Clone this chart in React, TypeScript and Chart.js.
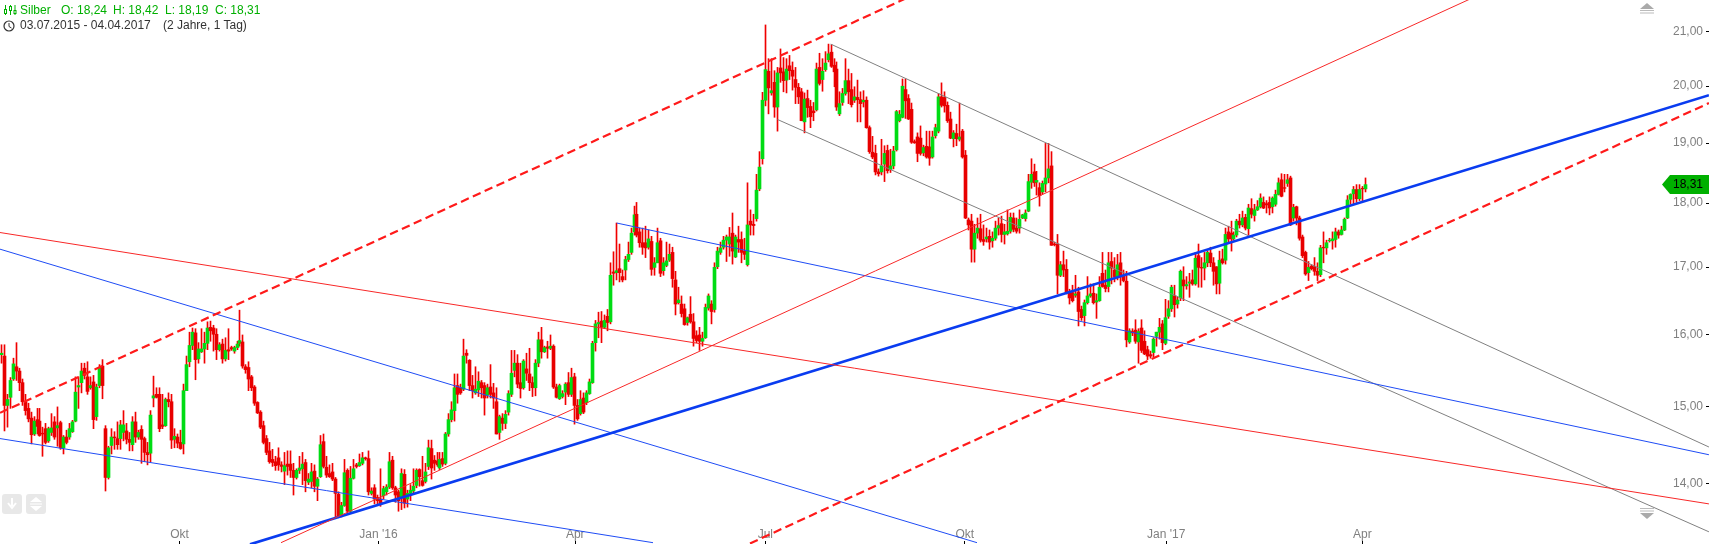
import React, { useEffect, useRef } from "react";
import { Chart, registerables } from "chart.js";

Chart.register(...registerables);

// Daily candles of silver as [open, high, low, close].
const q3_2015 = [
[15.72,15.86,15.60,15.74],[15.70,15.86,14.68,15.02],[15.02,15.17,14.73,15.10],[15.13,15.40,14.98,15.36],[15.38,15.67,15.36,15.59],[15.55,15.89,15.36,15.49],[15.49,15.53,15.22,15.33],[15.33,15.38,15.02,15.07],[15.07,15.17,14.89,14.95],[14.98,15.05,14.80,14.84],
[14.85,14.93,14.51,14.63],[14.64,14.87,14.62,14.81],[14.83,14.98,14.64,14.74],[14.81,14.98,14.61,14.62],[14.65,14.73,14.35,14.64],[14.71,14.78,14.51,14.53],[14.55,14.73,14.53,14.71],[14.66,14.91,14.62,14.72],[14.80,14.87,14.57,14.60],[14.72,15.00,14.48,14.75],
[14.79,14.81,14.44,14.46],[14.46,14.62,14.38,14.60],[14.60,14.69,14.51,14.53],[14.60,14.78,14.57,14.71],[14.67,14.82,14.66,14.80],[14.81,15.41,14.80,15.20],[15.27,15.41,14.98,15.29],[15.33,15.60,15.19,15.49],[15.53,15.60,15.38,15.43],[15.41,15.62,15.17,15.21],
[15.26,15.41,15.24,15.29],[15.34,15.43,14.71,14.83],[14.87,15.31,14.82,15.27],[15.29,15.58,15.26,15.54],[15.56,15.65,15.11,15.29],[14.71,14.75,13.91,14.08],[14.08,14.48,14.06,14.46],[14.49,14.71,14.38,14.60],[14.60,14.67,14.44,14.59],[14.58,14.80,14.44,14.50],
[14.58,14.82,14.44,14.76],[14.66,14.95,14.55,14.76],[14.68,14.78,14.51,14.57],[14.57,14.66,14.42,14.53],[14.50,14.87,14.42,14.80],[14.80,14.93,14.53,14.60],[14.60,14.69,14.57,14.66],[14.70,14.75,14.26,14.57],[14.58,14.60,14.28,14.40],[14.40,14.53,14.24,14.37],
[14.39,14.95,14.28,14.89],[15.12,15.42,15.00,15.15],[15.17,15.26,15.12,15.13],[15.17,15.26,14.67,14.71],[14.76,15.17,14.71,14.74],[14.75,15.12,14.74,15.10],[15.10,15.19,15.00,15.07],[15.07,15.17,14.45,14.56],[14.57,14.71,14.46,14.61],[14.60,14.64,14.46,14.52],
];
const q4_2015 = [
[14.53,14.69,14.44,14.45],[14.51,15.31,14.38,15.22],[15.22,15.70,15.22,15.58],[15.62,16.04,15.55,15.85],[15.85,16.10,15.79,16.04],[16.03,16.09,15.37,15.65],[15.66,15.89,15.60,15.80],[15.76,16.09,15.75,15.80],[15.80,16.04,15.60,15.88],[15.88,16.19,15.79,16.10],
[16.11,16.20,15.91,16.06],[16.10,16.14,15.77,16.01],[16.01,16.09,15.65,15.79],[15.79,15.89,15.77,15.86],[15.87,15.94,15.60,15.66],[15.66,15.96,15.63,15.78],[15.79,16.09,15.65,15.77],[15.82,15.84,15.78,15.80],[15.77,15.84,15.74,15.82],[15.82,15.91,15.79,15.87],
[15.88,16.36,15.84,15.92],[15.90,16.00,15.53,15.56],[15.55,15.58,15.46,15.51],[15.54,15.62,15.22,15.38],[15.41,15.43,15.22,15.26],[15.27,15.29,15.02,15.05],[15.06,15.07,14.91,14.92],[14.93,14.95,14.71,14.73],[14.75,14.81,14.51,14.53],[14.58,14.62,14.37,14.40],
[14.42,14.53,14.26,14.28],[14.31,14.44,14.22,14.27],[14.28,14.35,14.17,14.23],[14.33,14.46,14.17,14.24],[14.24,14.28,14.15,14.22],[14.16,14.40,13.99,14.23],[14.25,14.42,14.11,14.22],[14.25,14.42,14.08,14.17],[14.17,14.26,13.86,14.08],[14.08,14.19,14.06,14.17],
[14.17,14.35,14.13,14.20],[14.19,14.40,13.99,14.25],[14.27,14.31,13.90,14.04],[14.02,14.13,13.99,14.06],[14.03,14.26,13.95,14.15],[14.16,14.24,13.90,13.97],[13.97,14.08,13.79,14.06],[14.09,14.62,14.08,14.50],[14.54,14.64,14.20,14.22],[14.21,14.35,14.08,14.11],
[14.13,14.24,14.08,14.09],[14.15,14.26,14.04,14.06],[14.06,14.08,13.59,13.88],[13.87,13.90,13.58,13.59],[13.61,13.77,13.59,13.73],[13.73,14.31,13.72,14.14],[14.17,14.19,13.63,13.66],[13.66,14.22,13.64,14.07],[14.07,14.31,14.06,14.19],[14.24,14.26,14.20,14.22],
[14.23,14.38,14.22,14.27],[14.26,14.40,14.24,14.33],[14.33,14.34,14.30,14.32],[14.32,14.42,13.86,13.90],[13.88,13.95,13.86,13.91],[13.95,13.99,13.75,13.81],[13.83,13.86,13.75,13.79],
];
const q1_2016 = [
[13.81,14.19,13.72,13.76],[13.85,13.97,13.81,13.94],[13.90,13.99,13.86,13.96],[13.96,14.40,13.94,14.28],[14.30,14.35,13.93,13.95],[13.95,13.97,13.77,13.86],[13.90,13.92,13.66,13.79],[13.83,14.19,13.68,14.13],[14.12,14.18,13.70,13.76],[13.81,13.92,13.71,13.88],
[13.88,13.99,13.79,13.92],[13.91,14.19,13.88,13.97],[13.98,14.19,13.95,14.17],[14.18,14.19,13.97,14.09],[14.04,14.35,13.97,13.98],[14.03,14.26,14.01,14.15],[14.22,14.56,14.18,14.46],[14.45,14.56,14.06,14.20],[14.30,14.36,14.17,14.26],[14.29,14.40,14.22,14.24],
[14.20,14.40,14.18,14.31],[14.32,14.40,14.22,14.25],[14.26,14.66,14.24,14.64],[14.64,14.91,14.61,14.83],[14.83,15.07,14.80,14.96],[14.95,15.45,14.81,15.26],[15.29,15.45,15.05,15.17],[15.26,15.31,15.17,15.19],[15.24,15.94,15.22,15.70],[15.74,15.79,15.60,15.71],
[15.64,15.65,15.22,15.29],[15.29,15.43,15.12,15.22],[15.19,15.55,15.17,15.24],[15.23,15.48,15.14,15.35],[15.33,15.36,15.12,15.26],[15.29,15.33,14.89,15.12],[15.16,15.31,15.12,15.26],[15.27,15.58,15.12,15.17],[15.19,15.32,14.98,15.12],[15.07,15.26,14.64,14.64],
[14.66,14.89,14.57,14.87],[14.85,14.91,14.69,14.78],[14.78,14.95,14.71,14.90],[14.93,15.22,14.89,15.18],[15.17,15.78,15.14,15.46],[15.50,15.78,15.41,15.60],[15.60,15.72,15.26,15.31],[15.33,15.60,15.12,15.25],[15.26,15.65,15.24,15.63],[15.52,15.74,15.36,15.46],
[15.45,15.81,15.22,15.33],[15.33,15.41,15.14,15.26],[15.26,15.65,15.15,15.60],[15.60,16.04,15.55,15.93],[15.93,16.11,15.67,15.76],[15.76,15.84,15.75,15.82],[15.83,15.91,15.67,15.81],[15.81,16.00,15.79,15.84],[15.84,15.86,15.25,15.27],[15.27,15.31,15.12,15.13],
[15.11,15.31,15.10,15.29],[15.14,15.22,15.12,15.18],[15.20,15.33,15.03,15.31],[15.33,15.47,15.14,15.17],[15.17,15.53,15.14,15.40],[15.41,15.46,14.77,15.02],
];
const q2_2016 = [
[15.02,15.10,14.82,14.84],[14.91,15.22,14.89,15.10],[15.12,15.19,14.91,14.93],[15.06,15.22,15.03,15.19],[15.18,15.38,15.17,15.34],[15.33,15.91,15.32,15.88],[15.89,16.21,15.77,16.16],[16.16,16.33,15.96,16.18],[16.20,16.34,15.89,16.11],[16.11,16.29,16.09,16.21],
[16.27,16.37,16.06,16.18],[16.19,17.07,16.16,16.88],[16.93,17.24,16.73,16.91],[16.92,17.69,16.81,16.95],[16.98,17.36,16.78,16.92],[16.86,16.96,16.78,16.81],[16.96,17.17,16.81,17.12],[17.12,17.39,17.09,17.20],[17.23,17.61,17.20,17.53],[17.55,17.96,17.50,17.82],
[17.83,18.02,17.47,17.50],[17.55,17.61,17.31,17.38],[17.38,17.61,17.20,17.31],[17.38,17.64,17.15,17.30],[17.31,17.58,17.28,17.44],[17.40,17.48,16.88,16.97],[17.00,17.15,16.88,17.07],[17.07,17.61,17.07,17.38],[17.41,17.45,16.86,16.91],[16.95,17.15,16.88,17.07],
[17.03,17.39,17.01,17.10],[17.11,17.36,17.09,17.20],[17.23,17.31,16.70,16.83],[16.81,16.94,16.29,16.45],[16.47,16.70,16.45,16.51],[16.45,16.57,16.26,16.31],[16.38,16.45,16.14,16.15],[16.18,16.26,16.14,16.25],[16.30,16.56,16.17,16.19],[16.19,16.31,15.84,15.95],
[15.99,16.06,15.89,15.92],[16.00,16.11,15.78,15.91],[15.91,16.04,15.84,15.95],[15.96,16.45,15.95,16.40],[16.39,16.60,16.36,16.57],[16.45,16.50,16.16,16.34],[16.37,17.07,16.33,17.00],[17.01,17.31,16.98,17.25],[17.23,17.39,17.20,17.30],[17.31,17.48,17.28,17.42],
[17.42,17.50,17.09,17.47],[17.36,17.62,17.17,17.47],[17.53,17.85,17.05,17.25],[17.16,17.50,17.15,17.47],[17.43,17.64,17.23,17.39],[17.43,17.55,17.07,17.23],[17.25,17.45,17.12,17.20],[17.04,18.34,17.02,17.66],[17.72,17.90,17.50,17.66],[17.67,17.83,17.50,17.65],
[17.76,18.48,17.72,18.22],[18.24,18.86,18.21,18.60],[18.74,19.89,18.65,19.75],[19.75,21.13,19.65,20.30],
];
const q3_2016 = [
[20.27,20.50,19.51,19.97],[19.88,20.50,19.84,19.92],[20.07,20.28,19.45,19.63],[19.63,20.34,19.21,20.24],[20.33,20.68,20.07,20.24],[20.26,20.52,19.90,20.10],[20.11,20.50,19.88,20.31],[20.37,20.56,20.12,20.28],[20.29,20.44,19.93,20.18],[20.12,20.34,19.69,19.98],
[19.98,20.05,19.69,19.81],[19.90,19.96,19.39,19.39],[19.37,19.88,19.18,19.77],[19.78,19.93,19.45,19.62],[19.64,19.75,19.27,19.46],[19.56,19.71,19.39,19.53],[19.58,20.42,19.56,20.31],[20.34,20.60,20.02,20.05],[20.12,20.50,19.91,20.27],[20.30,20.63,20.27,20.42],
[20.48,20.77,20.44,20.59],[20.62,20.76,20.34,20.36],[20.38,20.50,19.99,20.26],[20.31,20.44,19.57,19.63],[19.51,19.90,19.48,19.69],[19.71,19.96,19.66,19.87],[19.87,20.50,19.84,20.10],[20.10,20.31,19.69,19.90],[19.94,20.23,19.63,19.67],[19.75,19.99,19.71,19.81],
[19.80,20.11,19.37,19.76],[19.76,19.90,19.37,19.69],[19.72,19.92,19.63,19.75],[19.75,19.81,19.26,19.27],[19.27,19.30,18.83,18.86],[18.85,19.12,18.74,18.77],[18.83,18.97,18.47,18.52],[18.52,18.57,18.45,18.49],[18.52,19.07,18.47,18.62],[18.65,18.96,18.36,18.83],
[18.88,18.97,18.50,18.54],[18.56,18.90,18.51,18.62],[18.62,18.95,18.57,18.87],[18.89,19.57,18.87,19.55],[19.39,19.57,19.37,19.50],[19.45,20.13,19.44,20.00],[19.94,20.13,19.43,19.74],[19.78,19.85,19.41,19.42],[19.59,19.70,19.00,19.02],[19.03,19.06,19.00,19.01],
[19.11,19.18,18.69,18.83],[19.09,19.30,18.80,18.83],[18.84,18.97,18.79,18.93],[18.95,19.21,18.75,18.77],[18.94,19.21,18.63,18.75],[18.77,19.21,18.75,19.11],[19.13,19.33,19.09,19.27],[19.21,19.87,19.18,19.81],[19.81,20.06,19.63,19.66],[19.80,19.90,19.54,19.65],
[19.66,19.72,19.36,19.39],[19.42,19.54,19.08,19.09],[19.08,19.22,18.94,19.18],[19.17,19.33,18.96,19.08],[19.07,19.70,19.04,19.11],[19.21,19.24,18.75,18.77],[18.80,18.88,17.76,17.77],
];
const q4_2016 = [
[17.74,17.77,17.58,17.66],[17.72,17.83,17.08,17.28],[17.28,17.67,17.08,17.53],[17.53,17.77,17.45,17.61],[17.60,17.83,17.39,17.42],[17.43,17.66,17.34,17.40],[17.44,17.61,17.39,17.47],[17.48,17.58,17.28,17.39],[17.41,17.55,17.31,17.45],[17.45,17.72,17.42,17.61],
[17.61,17.77,17.50,17.65],[17.68,17.80,17.39,17.51],[17.51,17.67,17.36,17.55],[17.52,17.90,17.50,17.56],[17.56,17.85,17.53,17.78],[17.77,17.85,17.55,17.59],[17.61,17.77,17.53,17.56],[17.61,17.90,17.53,17.75],[17.77,17.83,17.76,17.82],[17.76,17.90,17.72,17.85],
[17.88,18.48,17.87,18.36],[18.35,18.74,18.25,18.48],[18.52,18.65,18.28,18.34],[18.35,18.53,18.14,18.38],[18.26,18.34,17.96,18.13],[18.19,18.37,18.16,18.33],[18.32,19.00,18.19,18.42],[18.42,19.00,18.34,18.57],[18.62,18.86,17.34,17.34],[17.36,17.39,17.33,17.35],
[17.36,17.51,16.60,16.88],[16.88,17.09,16.86,17.04],[17.04,17.25,16.86,16.96],[16.97,17.12,16.60,16.62],[16.63,16.67,16.45,16.54],[16.62,16.73,16.48,16.50],[16.58,16.88,16.55,16.60],[16.63,16.70,16.13,16.34],[16.37,16.42,16.21,16.25],[16.28,16.51,16.13,16.47],
[16.47,16.86,16.45,16.57],[16.57,16.75,16.55,16.60],[16.61,16.75,16.45,16.47],[16.48,16.60,16.24,16.50],[16.50,16.86,16.49,16.70],[16.91,17.23,16.70,16.71],[16.73,16.96,16.63,16.68],[16.71,17.23,16.63,17.07],[17.09,17.23,16.75,16.99],[16.96,17.15,16.78,16.86],
[16.86,17.20,16.81,17.04],[17.07,17.23,16.73,16.86],[16.88,16.96,16.78,16.80],[16.79,16.94,15.83,15.93],[15.90,16.09,15.88,16.06],[16.05,16.09,15.99,16.03],[16.07,16.22,15.88,15.91],[15.90,16.09,15.60,16.05],[16.10,16.22,15.75,15.78],[15.91,16.06,15.72,15.73],
[15.79,15.84,15.65,15.70],[15.72,15.77,15.67,15.70],[15.75,15.96,15.69,15.94],[15.98,16.04,15.84,16.04],[16.04,16.24,15.94,16.11],[16.16,16.21,15.79,15.89],[15.88,16.52,15.86,16.25],
];
const q1_2017 = [
[16.27,16.50,16.24,16.38],[16.38,16.73,16.34,16.70],[16.57,16.73,16.26,16.44],[16.45,16.55,16.39,16.51],[16.54,16.96,16.50,16.94],[16.81,17.01,16.50,16.72],[16.72,16.86,16.67,16.74],[16.76,16.91,16.55,16.78],[16.81,16.96,16.73,16.75],[16.75,17.23,16.73,17.14],
[17.18,17.36,16.70,17.00],[17.00,17.15,16.70,16.99],[16.99,17.23,16.81,17.07],[17.07,17.25,17.01,17.23],[17.22,17.31,17.01,17.07],[17.07,17.15,16.73,16.94],[17.01,17.01,16.60,16.75],[16.76,17.25,16.60,17.11],[17.13,17.28,17.05,17.07],[17.11,17.61,17.05,17.51],
[17.55,17.64,17.39,17.44],[17.53,17.72,17.25,17.44],[17.44,17.55,17.42,17.50],[17.50,17.75,17.47,17.72],[17.72,17.83,17.61,17.66],[17.66,17.88,17.63,17.77],[17.78,17.83,17.58,17.61],[17.60,17.99,17.50,17.93],[17.92,18.08,17.77,17.83],[17.81,17.99,17.72,17.90],
[17.90,18.05,17.89,17.95],[17.95,18.16,17.93,18.09],[18.02,18.11,17.92,17.93],[18.00,18.05,17.85,17.98],[18.02,18.11,17.82,17.93],[17.95,18.11,17.85,18.09],[17.99,18.22,17.96,18.15],[18.15,18.42,18.14,18.34],[18.39,18.49,18.11,18.12],[18.26,18.48,18.19,18.25],
[18.33,18.48,18.28,18.39],[18.42,18.45,17.65,17.66],[17.77,17.99,17.72,17.94],[17.95,17.96,17.66,17.77],[17.77,17.80,17.42,17.45],[17.47,17.50,17.15,17.18],[17.23,17.25,16.88,16.90],[16.92,17.09,16.80,17.00],[17.02,17.04,16.96,16.98],[17.01,17.15,16.88,16.94],
[16.94,17.07,16.80,16.88],[16.89,17.34,16.86,17.30],[17.31,17.55,17.07,17.30],[17.30,17.42,17.20,17.38],[17.41,17.45,17.39,17.42],[17.41,17.55,17.28,17.44],[17.43,17.61,17.31,17.55],[17.55,17.58,17.45,17.50],[17.51,17.64,17.50,17.58],[17.58,17.77,17.57,17.75],
[17.77,18.13,17.76,18.06],[18.07,18.16,17.99,18.15],[18.16,18.28,17.99,18.23],[18.23,18.31,18.02,18.08],[18.08,18.31,18.05,18.23],[18.25,18.28,18.05,18.24],[18.24,18.42,18.19,18.31],
];

// Price-axis ticks and time-axis ticks (position in trading days, label).
const priceTicks = [21, 20, 19, 18, 17, 16, 15, 14];
const timeTickDays = [59.73, 126.4, 192.3, 256.0, 322.8, 390.3, 456.0];
const timeTickLabels = ["Okt", "Jan '16", "Apr", "Jul", "Okt", "Jan '17", "Apr"];

// Trend lines: [[day, price], [day, price]]
const dashedUpper = [[-0.4, 14.92], [303.45, 21.65]];
const dashedLower = [[250.85, 13.27], [572.1, 19.70]];
const redFalling = [[-0.4, 17.54], [572.1, 13.75]];
const redRising = [[93.74, 13.28], [493.7, 21.67]];
const blueThick = [[83.35, 13.26], [572.1, 19.84]];
const blueUpper = [[-0.4, 17.28], [326.9, 13.28]];
const blueLower = [[-0.4, 14.58], [218.36, 13.28]];
const blueMiddle = [[206.2, 17.69], [572.1, 14.37]];
const grayUpper = [[277.9, 20.77], [572.1, 14.47]];
const grayLower = [[260.13, 19.41], [572.1, 13.41]];

const PX_PER_DAY = 2.985;
const X_MIN = -0.4;
const X_MAX = 571.12;
const Y_MIN = 13.316;
const Y_MAX = 21.608;
const FONT = "'Liberation Sans', Arial, sans-serif";
const RED = "#e80000";
const WICK = "#f00000";
const GREEN = "#00dc14";

const candles = [...q3_2015, ...q4_2015, ...q1_2016, ...q2_2016, ...q3_2016, ...q4_2016, ...q1_2017];

// keeps one-pixel wicks crisp: moves a day to the centre of its device pixel
const snapDay = (i: number) => (Math.floor((i - X_MIN) * PX_PER_DAY) + 0.5) / PX_PER_DAY + X_MIN;

const toPoints = (pts: number[][]) => pts.map(([x, y]) => ({ x, y }));
const trend = (pts: number[][], color: string, width: number, dash: number[] = []) => ({
  type: "line" as const,
  data: toPoints(pts),
  borderColor: color,
  borderWidth: width,
  borderDash: dash,
  pointRadius: 0,
  fill: false,
  tension: 0,
  clip: false as any,
  order: 0,
});

const lastPill = {
  id: "lastPill",
  afterDraw(chart: any) {
    const last = candles[candles.length - 1][3];
    const y = chart.scales.y.getPixelForValue(last);
    const c = chart.ctx;
    c.save();
    c.fillStyle = "#00b000";
    c.beginPath();
    c.moveTo(1662, y);
    c.lineTo(1670, y - 9.5);
    c.lineTo(1709, y - 9.5);
    c.lineTo(1709, y + 9.5);
    c.lineTo(1670, y + 9.5);
    c.closePath();
    c.fill();
    c.fillStyle = "#000";
    c.font = `12px ${FONT}`;
    c.textAlign = "left";
    c.textBaseline = "middle";
    c.fillText(last.toFixed(2).replace(".", ","), 1673, y + 0.5);
    c.restore();
  },
};

const textStyle: React.CSSProperties = {
  position: "absolute",
  font: `12px ${FONT}`,
  whiteSpace: "pre",
  lineHeight: "14px",
};

export default function App() {
  const ref = useRef<HTMLCanvasElement | null>(null);
  useEffect(() => {
    const chart = new Chart(ref.current as HTMLCanvasElement, {
      type: "bar",
      data: {
        datasets: [
          trend(dashedUpper, "#ff1a1a", 2.2, [8.5, 4.5]),
          trend(dashedLower, "#ff1a1a", 2.2, [8.5, 4.5]),
          trend(redFalling, "#f82828", 1),
          trend(redRising, "#f82828", 1),
          trend(blueThick, "#0a3cf0", 2.6),
          trend(blueUpper, "#1f4cf5", 1),
          trend(blueLower, "#1f4cf5", 1),
          trend(blueMiddle, "#1f4cf5", 1),
          trend(grayUpper, "#808080", 1),
          trend(grayLower, "#808080", 1),
          {
            type: "bar" as const,
            data: candles.map((k, i) => ({ x: snapDay(i), y: [k[0], k[3]] })),
            backgroundColor: candles.map((k) => (k[3] < k[0] ? RED : GREEN)),
            barThickness: 3,
            grouped: false,
            order: 1,
          },
          {
            type: "bar" as const,
            data: candles.map((k, i) => ({ x: snapDay(i), y: [k[2], k[1]] })),
            backgroundColor: WICK,
            barThickness: 1,
            grouped: false,
            order: 2,
          },
        ] as any,
      },
      options: {
        responsive: false,
        animation: false,
        devicePixelRatio: 1,
        events: [],
        layout: { autoPadding: false, padding: 0 },
        plugins: { legend: { display: false }, tooltip: { enabled: false }, title: { display: false } },
        scales: {
          x: {
            type: "linear",
            min: X_MIN,
            max: X_MAX,
            offset: false,
            position: "bottom",
            border: { display: false },
            grid: { offset: false, drawOnChartArea: false, drawTicks: true, tickLength: 3, color: "#000" },
            afterBuildTicks: (s: any) => {
              s.ticks = timeTickDays.map((value) => ({ value }));
            },
            afterFit: (s: any) => {
              s.height = 3;
              s.paddingLeft = 0;
              s.paddingRight = 0;
            },
            ticks: {
              mirror: true,
              padding: -1,
              autoSkip: false,
              maxRotation: 0,
              minRotation: 0,
              color: "#808080",
              font: { family: FONT, size: 12 },
              callback: (v: any) => timeTickLabels[timeTickDays.indexOf(v)] ?? "",
            },
          },
          y: {
            type: "logarithmic",
            min: Y_MIN,
            max: Y_MAX,
            position: "right",
            border: { display: false },
            grid: { drawOnChartArea: false, drawTicks: true, tickLength: 3, color: "#000" },
            afterBuildTicks: (s: any) => {
              s.ticks = priceTicks.map((value) => ({ value }));
            },
            afterFit: (s: any) => {
              s.width = 3;
              s.paddingTop = 0;
              s.paddingBottom = 0;
            },
            ticks: {
              mirror: true,
              padding: -3,
              labelOffset: -0.5,
              autoSkip: false,
              color: "#808080",
              font: { family: FONT, size: 12 },
              callback: (v: any) => Number(v).toFixed(2).replace(".", ","),
            },
          },
        },
      } as any,
      plugins: [lastPill],
    });
    return () => chart.destroy();
  }, []);

  const green = "#00b000";
  const dark = "#333";
  return (
    <div style={{ position: "fixed", left: 0, top: 0, width: 1709, height: 544, background: "#fff", overflow: "hidden" }}>
      <canvas ref={ref} width={1709} height={544} style={{ position: "absolute", left: 0, top: 0, width: 1709, height: 544 }} />
      <svg width={16} height={14} style={{ position: "absolute", left: 2, top: 3 }}>
        <g stroke={green} fill="none" strokeWidth={1}>
          <path d="M3.5 2V12M8.5 2V12M13 2V12" />
          <rect x={2.5} y={6.5} width={2} height={4} fill="#fff" />
          <rect x={7.5} y={3.5} width={2} height={4} fill="#fff" />
          <rect x={12} y={7.5} width={2} height={3} fill="#fff" />
        </g>
      </svg>
      <svg width={14} height={14} style={{ position: "absolute", left: 2, top: 19 }}>
        <circle cx={7} cy={7} r={5} stroke={dark} strokeWidth={1.2} fill="none" />
        <path d="M7 4V7.5L9.5 9" stroke={dark} fill="none" />
      </svg>
      <span style={{ ...textStyle, left: 20, top: 3, color: green }}>Silber</span>
      <span style={{ ...textStyle, left: 61, top: 3, color: green }}>O: 18,24</span>
      <span style={{ ...textStyle, left: 113, top: 3, color: green }}>H: 18,42</span>
      <span style={{ ...textStyle, left: 165, top: 3, color: green }}>L: 18,19</span>
      <span style={{ ...textStyle, left: 215, top: 3, color: green }}>C: 18,31</span>
      <span style={{ ...textStyle, left: 20, top: 18, color: dark }}>03.07.2015 - 04.04.2017</span>
      <span style={{ ...textStyle, left: 163, top: 18, color: dark }}>(2 Jahre, 1 Tag)</span>
      <svg width={16} height={12} style={{ position: "absolute", left: 1639, top: 3 }}>
        <path d="M1 6L8 0L15 6Z" fill="#aaa" />
        <path d="M1 7.5H15M1 10H15" stroke="#bbb" />
      </svg>
      <svg width={16} height={12} style={{ position: "absolute", left: 1639, top: 507 }}>
        <path d="M1 6L8 12L15 6Z" fill="#aaa" />
        <path d="M1 1.5H15M1 4H15" stroke="#bbb" />
      </svg>
      <svg width={46} height={22} style={{ position: "absolute", left: 1, top: 493 }}>
        <rect x={1} y={1} width={20} height={20} rx={3} fill="#e8e8e8" />
        <rect x={25} y={1} width={20} height={20} rx={3} fill="#e8e8e8" />
        <path d="M11 5V13M7 10L11 15L15 10" stroke="#fff" strokeWidth={2} fill="none" />
        <path d="M29 9L35 4L41 9ZM29 13L35 18L41 13Z" fill="#fff" />
        <path d="M29 11H41" stroke="#fff" strokeWidth={1} />
      </svg>
    </div>
  );
}
